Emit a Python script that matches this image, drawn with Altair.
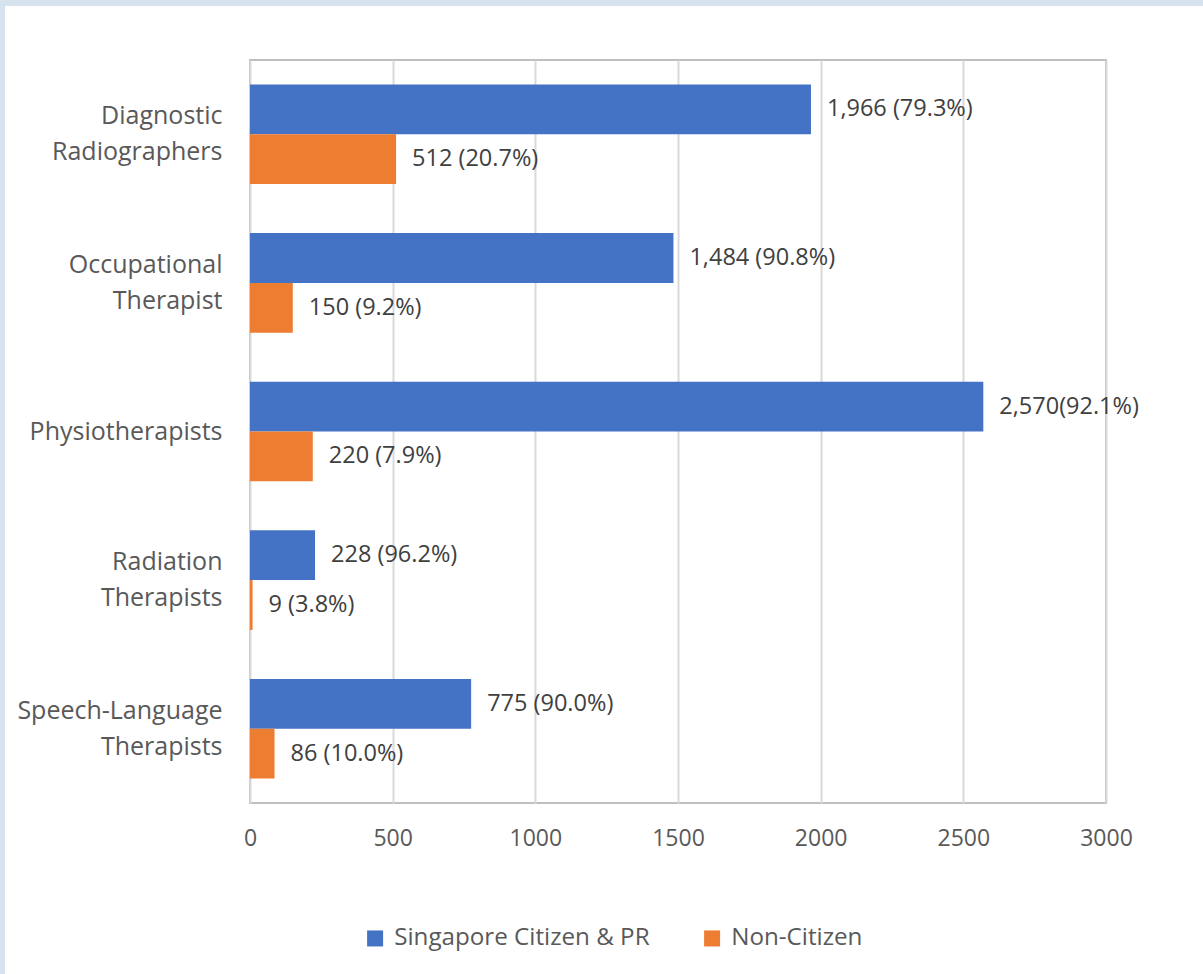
import altair as alt
import pandas as pd

categories = ["Diagnostic Radiographers", "Occupational Therapist", "Physiotherapists",
              "Radiation Therapists", "Speech-Language Therapists"]
series = ["Singapore Citizen & PR", "Non-Citizen"]
citizen_values = [1966, 1484, 2570, 228, 775]
citizen_labels = ["1,966 (79.3%)", "1,484 (90.8%)", "2,570(92.1%)", "228 (96.2%)", "775 (90.0%)"]
non_citizen_values = [512, 150, 220, 9, 86]
non_citizen_labels = ["512 (20.7%)", "150 (9.2%)", "220 (7.9%)", "9 (3.8%)", "86 (10.0%)"]
x_ticks = [0, 500, 1000, 1500, 2000, 2500, 3000]
colors = ["#4472C4", "#ED7D31"]

rows = []
for c, v, l in zip(categories, citizen_values, citizen_labels):
    rows.append({"category": c, "series": series[0], "value": v, "label": l})
for c, v, l in zip(categories, non_citizen_values, non_citizen_labels):
    rows.append({"category": c, "series": series[1], "value": v, "label": l})
df = pd.DataFrame(rows)

FONT = "Open Sans"

y_enc = alt.Y("category:N", sort=categories, title=None,
              scale=alt.Scale(paddingInner=0.33, paddingOuter=0.165),
              axis=alt.Axis(labelExpr="split(datum.label, ' ')",
                            labelFontSize=25, labelColor="#595959", labelFont=FONT,
                            labelPadding=28, labelLineHeight=36, ticks=False, domain=False,
                            labelLimit=400,
                            labelOffset={"condition": {"test": "indexof(datum.label, ' ') >= 0",
                                                       "value": -18},
                                         "value": 0}))
y_off = alt.YOffset("series:N", sort=series, scale=alt.Scale(paddingInner=0, paddingOuter=0))
x_enc = alt.X("value:Q", title=None,
              scale=alt.Scale(domain=[0, 3000], nice=False),
              axis=alt.Axis(values=x_ticks, format="d", labelFlush=False,
                            labelFontSize=23, labelColor="#595959",
                            labelFont=FONT, labelPadding=24, ticks=False, domain=False,
                            grid=True, gridColor="#d9d9d9", gridWidth=2))

bars = alt.Chart(df).mark_bar(height={"band": 1}).encode(
    y=y_enc, yOffset=y_off, x=x_enc,
    color=alt.Color("series:N", sort=series,
                    scale=alt.Scale(domain=series, range=colors),
                    legend=alt.Legend(title=None, orient="none", direction="horizontal",
                                      legendX=113, legendY=866,
                                      symbolType="square", symbolSize=256,
                                      symbolStrokeWidth=0, symbolOpacity=1,
                                      labelFontSize=24.2, labelColor="#595959",
                                      labelFont=FONT, labelOffset=7, columnPadding=50,
                                      labelLimit=600)),
)

text = alt.Chart(df).mark_text(align="left", baseline="middle", dx=16,
                               fontSize=23.5, font=FONT, color="#404040").encode(
    y=alt.Y("category:N", sort=categories), yOffset=y_off,
    x=alt.X("value:Q"), text="label:N")

frame_df = pd.DataFrame({"k": [0]})
frame_top = alt.Chart(frame_df).mark_rect(color="#d6e2ed").encode(
    x=alt.value(-250), x2=alt.value(953), y=alt.value(-60), y2=alt.value(-54))
frame_left = alt.Chart(frame_df).mark_rect(color="#d6e2ed").encode(
    x=alt.value(-250), x2=alt.value(-245), y=alt.value(-60), y2=alt.value(914))

chart = alt.layer(frame_top, frame_left, bars, text).properties(
    width=856, height=743,
    autosize=alt.AutoSizeParams(type="none"),
    padding={"left": 250, "top": 60, "right": 97, "bottom": 171},
    background="white",
).configure_view(stroke="#bfbfbf", strokeWidth=2)

chart.save("out.html", embed_options={"renderer": "svg", "actions": False})
